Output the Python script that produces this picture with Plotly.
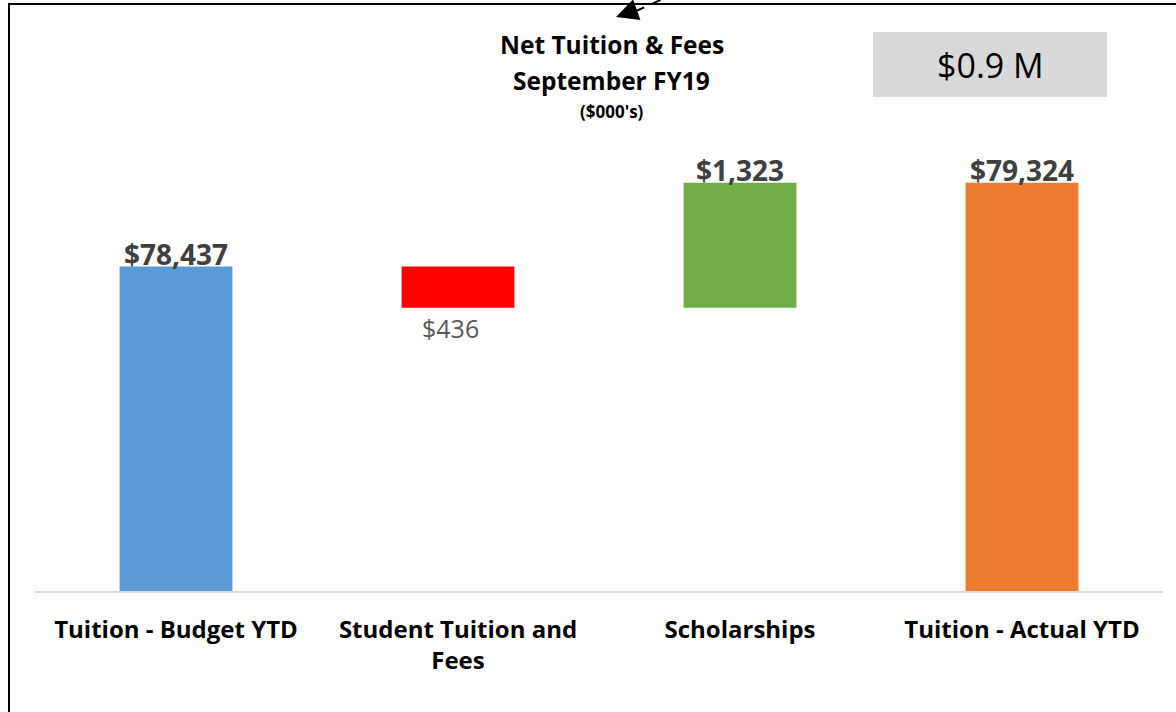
import plotly.graph_objects as go

categories = ["Tuition - Budget YTD", "Student Tuition and Fees", "Scholarships", "Tuition - Actual YTD"]
tick_labels = ["Tuition - Budget YTD", "Student Tuition and<br>Fees", "Scholarships", "Tuition - Actual YTD"]
measures = ["absolute", "relative", "relative", "total"]
values = [78437, -436, 1323, 79324]
value_labels = ["$78,437", "$436", "$1,323", "$79,324"]
colors = ["#5B9BD5", "#FF0000", "#70AD47", "#ED7D31"]
title_lines = ["Net Tuition &amp; Fees", "September FY19", "($000's)"]
callout = "$0.9 M"

# compute bar bases / heights from the waterfall steps
bases, heights, tops = [], [], []
running = 0
for m, v in zip(measures, values):
    if m in ("absolute", "total"):
        bases.append(0)
        heights.append(v)
        running = v
        tops.append(v)
    else:
        start = running
        running = running + v
        bases.append(min(start, running))
        heights.append(abs(v))
        tops.append(max(start, running))

FONT = "Open Sans"
W, H = 1176, 712
ML, MR, MT, MB = 35, 13, 119, 121
PW, PH = W - ML - MR, H - MT - MB


def px(x):
    return (x - ML) / PW


def py(y):
    return (H - MB - y) / PH


fig = go.Figure()
fig.add_trace(go.Bar(
    x=categories, y=heights, base=bases,
    marker=dict(color=colors, line=dict(width=0)),
    width=0.4, hoverinfo="skip", showlegend=False,
))

annotations = []
for i, (c, lab) in enumerate(zip(categories, value_labels)):
    if values[i] < 0 and measures[i] == "relative":
        annotations.append(dict(x=c, y=bases[i], xref="x", yref="y", text=lab,
                                showarrow=False, xanchor="center", yanchor="top",
                                yshift=-1, xshift=-8,
                                font=dict(family=FONT, size=25, color="#595959")))
    else:
        annotations.append(dict(x=c, y=tops[i], xref="x", yref="y", text="<b>" + lab + "</b>",
                                showarrow=False, xanchor="center", yanchor="bottom", yshift=-8,
                                font=dict(family=FONT, size=28, color="#404040")))

for txt, yc, sz in zip(title_lines, [45, 80, 112], [24.5, 24.5, 17]):
    annotations.append(dict(
        x=px(612), y=py(yc), xref="paper", yref="paper", showarrow=False,
        text="<b>" + txt + "</b>", xanchor="center", yanchor="middle",
        font=dict(family=FONT, size=sz, color="#000000"),
    ))
annotations.append(dict(
    x=px(990), y=py(65), xref="paper", yref="paper", showarrow=False,
    xanchor="center", yanchor="middle",
    text=callout, font=dict(family=FONT, size=34, color="#000000"),
))
annotations.append(dict(
    x=px(616), y=py(17), xref="paper", yref="paper", showarrow=True,
    text="", arrowhead=2, arrowsize=2.2, arrowwidth=2, arrowcolor="#000000",
    ax=20, ay=-7,
))

shapes = [
    dict(type="rect", xref="paper", yref="paper", x0=px(873), x1=px(1107), y0=py(97), y1=py(32),
         fillcolor="#D9D9D9", line=dict(width=0), layer="below"),
    dict(type="line", xref="paper", yref="paper", x0=px(8), x1=px(1176), y0=py(4), y1=py(4),
         line=dict(color="#000000", width=2)),
    dict(type="line", xref="paper", yref="paper", x0=px(9), x1=px(9), y0=py(4), y1=py(730),
         line=dict(color="#000000", width=2)),
    dict(type="line", xref="paper", yref="paper", x0=px(636), x1=px(665), y0=py(11), y1=py(-2),
         line=dict(color="#000000", width=2, dash="dash")),
]

fig.update_layout(
    width=W, height=H,
    margin=dict(l=ML, r=MR, t=MT, b=MB),
    paper_bgcolor="#FFFFFF", plot_bgcolor="#FFFFFF",
    bargap=0.6,
    xaxis=dict(tickmode="array", tickvals=categories,
               ticktext=["<b>" + t + "</b>" for t in tick_labels],
               tickfont=dict(family=FONT, size=24, color="#000000"),
               ticklabelstandoff=16,
               showline=True, linecolor="#D9D9D9", linewidth=2, showgrid=False,
               ticks="", ticklen=0, fixedrange=True),
    yaxis=dict(range=[75000, 80000], visible=False, showgrid=False, fixedrange=True),
    annotations=annotations,
    shapes=shapes,
    font=dict(family=FONT),
)

fig.write_html("out.html", config={"displayModeBar": False},
               post_script="document.body.style.margin='0px';")
